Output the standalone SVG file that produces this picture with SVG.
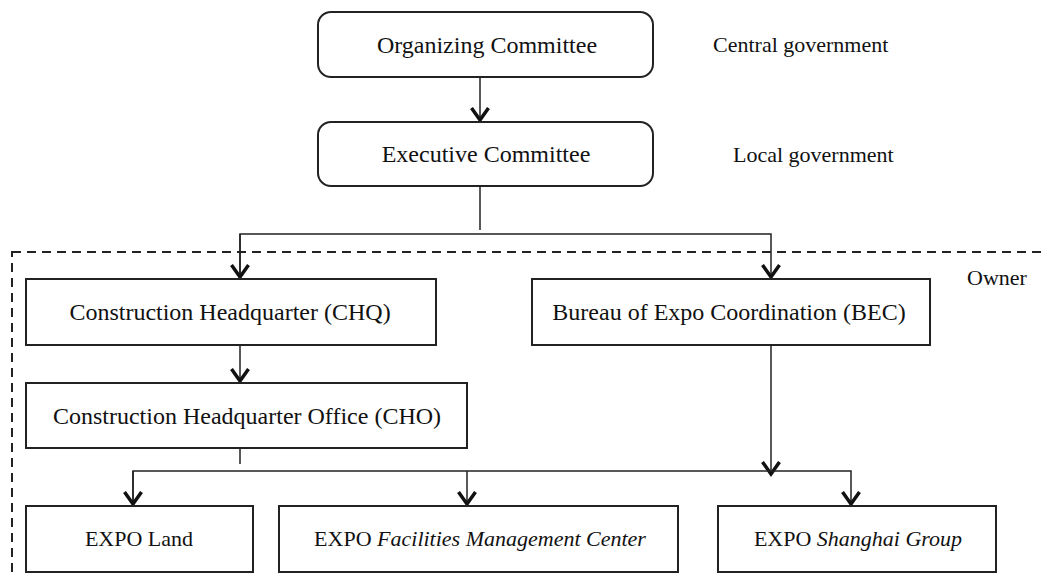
<svg xmlns="http://www.w3.org/2000/svg" width="1047" height="578" viewBox="0 0 1047 578">
<style>
.box{fill:#fff;stroke:#222;stroke-width:2}
.t{font-family:"Liberation Serif","Times New Roman",serif;font-size:24px;fill:#111;text-anchor:middle}
.b{font-size:22px}
.l{font-family:"Liberation Serif","Times New Roman",serif;font-size:22px;fill:#111}
.c{fill:none;stroke:#222;stroke-width:1.5}
.dash{fill:none;stroke:#222;stroke-width:2;stroke-dasharray:9,6}
</style>
<defs>
<marker id="arr" markerWidth="20" markerHeight="20" viewBox="0 0 20 20" refX="16" refY="10" orient="auto" markerUnits="userSpaceOnUse">
<path d="M4,1.5 L16,10 L4,18.5" fill="none" stroke="#111" stroke-width="3.5"/>
</marker>
</defs>
<rect class="dash" x="12" y="252" width="1050" height="340"/>
<g id="connectors">
<line class="c" x1="480" y1="77" x2="480" y2="120" marker-end="url(#arr)"/>
<line class="c" x1="480" y1="186" x2="480" y2="230" stroke="#555"/>
<polyline class="c" points="240,278 240,234 771,234 771,277" marker-end="url(#arr)"/>
<line class="c" x1="240" y1="234" x2="240" y2="277" marker-end="url(#arr)"/>
<line class="c" x1="240" y1="345" x2="240" y2="381" marker-end="url(#arr)"/>
<line class="c" x1="240" y1="448" x2="240" y2="464"/>
<line class="c" x1="771" y1="345" x2="771" y2="474" marker-end="url(#arr)"/>
<polyline class="c" points="133,505 133,471 851,471 851,504" marker-end="url(#arr)"/>
<line class="c" x1="133" y1="471" x2="133" y2="504" marker-end="url(#arr)"/>
<line class="c" x1="467" y1="471" x2="467" y2="504" marker-end="url(#arr)"/>
</g>
<g id="organizing">
<rect class="box" x="318" y="12" width="335" height="65" rx="13"/>
<text class="t" x="487" y="53">Organizing Committee</text>
</g>
<g id="executive">
<rect class="box" x="318" y="122" width="335" height="64" rx="13"/>
<text class="t" x="486" y="162">Executive Committee</text>
</g>
<g id="lbl-central"><text class="l" x="713" y="52">Central government</text></g>
<g id="lbl-local"><text class="l" x="733" y="162">Local government</text></g>
<g id="lbl-owner"><text class="l" x="967" y="285" font-size="24">Owner</text></g>
<g id="chq">
<rect class="box" x="26" y="279" width="410" height="66"/>
<text class="t" x="230" y="320">Construction Headquarter (CHQ)</text>
</g>
<g id="bec">
<rect class="box" x="532" y="279" width="398" height="66"/>
<text class="t" x="729" y="320">Bureau of Expo Coordination (BEC)</text>
</g>
<g id="cho">
<rect class="box" x="26" y="383" width="441" height="65"/>
<text class="t" x="247" y="424">Construction Headquarter Office (CHO)</text>
</g>
<g id="land">
<rect class="box" x="26" y="506" width="227" height="66"/>
<text class="t b" x="139" y="546">EXPO Land</text>
</g>
<g id="facilities">
<rect class="box" x="279" y="506" width="399" height="66"/>
<text class="t b" x="480" y="546">EXPO <tspan font-style="italic">Facilities Management Center</tspan></text>
</g>
<g id="shanghai">
<rect class="box" x="718" y="506" width="278" height="66"/>
<text class="t b" x="858" y="546">EXPO <tspan font-style="italic">Shanghai Group</tspan></text>
</g>
</svg>
